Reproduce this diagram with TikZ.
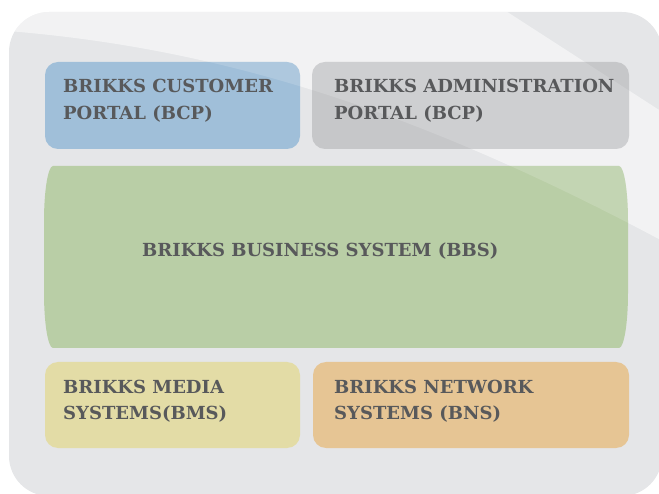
\documentclass[tikz,border=0pt]{standalone}
\usepackage{fontspec}
\setmainfont{DejaVu Serif}
\definecolor{bgcol}{HTML}{E5E6E8}
\definecolor{cbcp}{HTML}{A0BFD9}
\definecolor{cadm}{HTML}{C6C7C9}
\definecolor{cbbs}{HTML}{B9CEA6}
\definecolor{cbms}{HTML}{E3DCA6}
\definecolor{cbns}{HTML}{E6C594}
\definecolor{txtgray}{HTML}{58595B}
\tikzset{
  boxshape/.style={rounded corners=13pt, inner sep=0pt, outer sep=0pt, anchor=north west},
  lbl/.style={text=txtgray, font=\fontsize{18}{27}\selectfont\bfseries, align=left, inner sep=0pt, anchor=base west},
}
\def\bandpath{(-5,-30) -- (-5,5) -- (481,5) -- (670,-117) -- (670,-245) .. controls (400,-100) and (200,-45) .. (-5,-30) -- cycle}
\def\greenpath{([xshift=9pt]bbs.north west) -- ([xshift=-9pt]bbs.north east)
  arc[start angle=90, end angle=0, x radius=9pt, y radius=55pt]
  -- ([yshift=55pt]bbs.south east)
  arc[start angle=0, end angle=-90, x radius=9pt, y radius=55pt]
  -- ([xshift=9pt]bbs.south west)
  arc[start angle=270, end angle=180, x radius=9pt, y radius=55pt]
  -- ([yshift=-55pt]bbs.north west)
  arc[start angle=180, end angle=90, x radius=9pt, y radius=55pt] -- cycle}
\begin{document}
\begin{tikzpicture}[x=1pt,y=1pt]
\useasboundingbox (0,0) rectangle (659,-494);
% background panel
\path[fill=bgcol, rounded corners=40pt] (9,-12) rectangle (662,-496);
\begin{scope}
  \clip[rounded corners=40pt] (9,-12) rectangle (662,-496);
  \fill[white, opacity=0.5] \bandpath;
\end{scope}
% boxes
\node[boxshape, fill=cbcp, minimum width=255pt, minimum height=87pt] (bcp) at (45,-62) {};
\node[boxshape, fill=cadm, minimum width=317pt, minimum height=87pt] (adm) at (312,-62) {};
\node[inner sep=0pt, outer sep=0pt, anchor=north west, minimum width=584pt, minimum height=182pt] (bbs) at (44,-166) {};
\fill[cbbs] \greenpath;
\node[boxshape, fill=cbms, minimum width=255pt, minimum height=86pt] (bms) at (45,-362) {};
\node[boxshape, fill=cbns, minimum width=316pt, minimum height=86pt] (bns) at (313,-362) {};
% light band over the boxes
\begin{scope}
  \clip \bandpath;
  \fill[white, opacity=0.15, rounded corners=13pt] (bcp.north west) rectangle (bcp.south east);
  \fill[white, opacity=0.15, rounded corners=13pt] (adm.north west) rectangle (adm.south east);
  \fill[white, opacity=0.15] \greenpath;
\end{scope}
% labels (anchor = baseline of the last line)
\node[lbl] (bcpt) at (63,-120) {BRIKKS CUSTOMER\\PORTAL (BCP)};
\node[lbl] (admt) at (334,-120) {BRIKKS ADMINISTRATION\\PORTAL (BCP)};
\node[lbl] (bbst) at (142,-257) {BRIKKS BUSINESS SYSTEM (BBS)};
\node[lbl] (bmst) at (63,-420) {BRIKKS MEDIA\\SYSTEMS(BMS)};
\node[lbl] (bnst) at (334,-420) {BRIKKS NETWORK\\SYSTEMS (BNS)};
\end{tikzpicture}
\end{document}
